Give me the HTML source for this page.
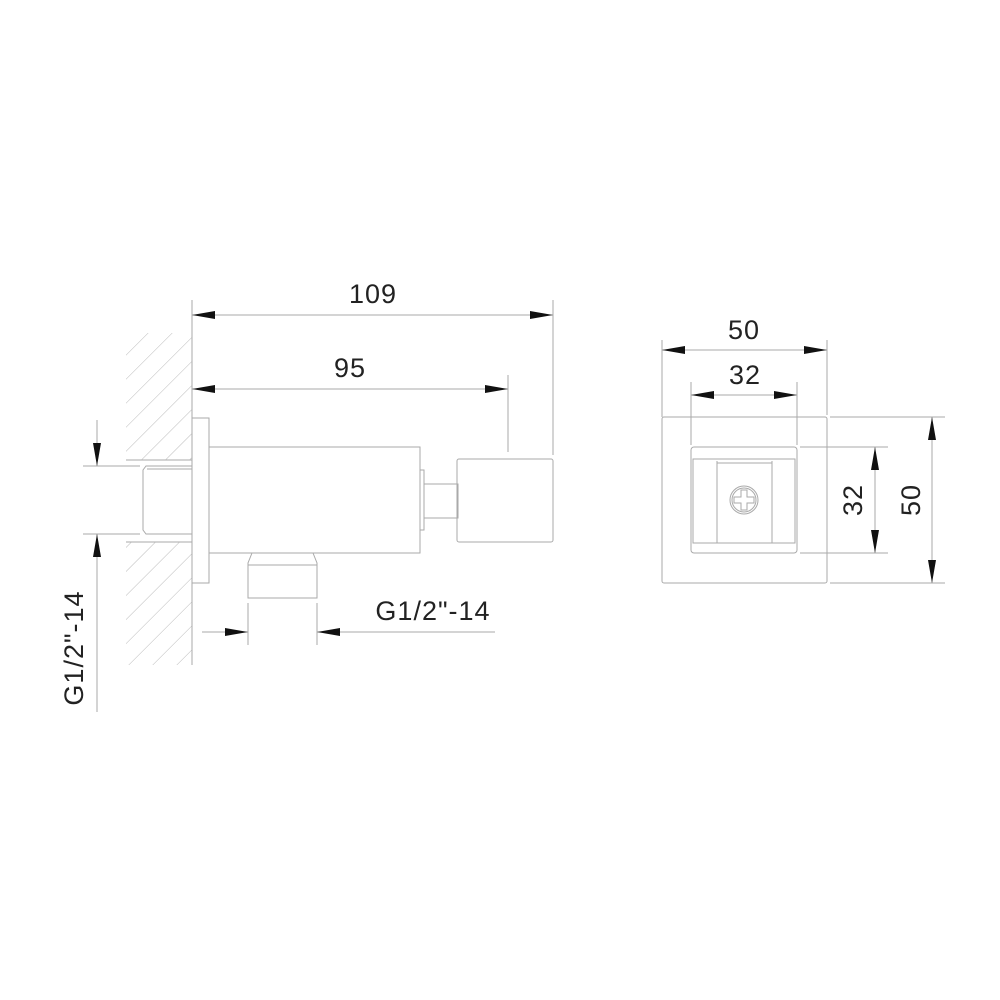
<!DOCTYPE html>
<html><head><meta charset="utf-8"><style>
html,body{margin:0;padding:0;background:#fff;}
svg{display:block;}
text{font-family:"Liberation Sans",sans-serif;font-size:27px;letter-spacing:1px;fill:#222;}
</style></head><body>
<svg width="1000" height="1000" viewBox="0 0 1000 1000">
<defs>
<pattern id="h" patternUnits="userSpaceOnUse" width="17" height="17" patternTransform="rotate(45)">
<line x1="0" y1="0" x2="0" y2="17" stroke="#bbb" stroke-width="1"/>
</pattern>
<marker id="a" viewBox="0 0 10 10" refX="10" refY="5" markerWidth="23" markerHeight="8" markerUnits="userSpaceOnUse" orient="auto-start-reverse" preserveAspectRatio="none">
<path d="M0,0 L10,5 L0,10 z" fill="#111"/>
</marker>
</defs>
<g fill="none" stroke="#aaa" stroke-width="1">
<rect x="126" y="333" width="66" height="127" fill="url(#h)" stroke="none"/>
<rect x="126" y="542" width="66" height="123" fill="url(#h)" stroke="none"/>
<line x1="126" y1="460" x2="192" y2="460"/>
<line x1="126" y1="542" x2="192" y2="542"/>
<line x1="192" y1="300" x2="192" y2="665"/>
<rect x="192" y="418" width="17" height="165"/>
<rect x="209" y="447" width="211" height="106"/>
<path d="M192,466 H146 L143,470 V530 L146,534 H192"/>
<line x1="147" y1="469" x2="192" y2="469"/>
<path d="M420,470 H424 V530 H420"/>
<rect x="424" y="484" width="34" height="34"/>
<rect x="457" y="459" width="96" height="83" rx="2"/>
<path d="M252,553 L248,563 V598 H317 V563 L313,553"/>
<line x1="248" y1="565" x2="317" y2="565"/>
<line x1="553" y1="300" x2="553" y2="455"/>
<line x1="192" y1="315" x2="553" y2="315" marker-start="url(#a)" marker-end="url(#a)"/>
<line x1="508" y1="375" x2="508" y2="452"/>
<line x1="192" y1="389" x2="508" y2="389" marker-start="url(#a)" marker-end="url(#a)"/>
<line x1="248" y1="603" x2="248" y2="645"/>
<line x1="317" y1="603" x2="317" y2="645"/>
<line x1="202" y1="632" x2="248" y2="632" marker-end="url(#a)"/>
<line x1="317" y1="632" x2="495" y2="632" marker-start="url(#a)"/>
<line x1="83" y1="466" x2="140" y2="466"/>
<line x1="83" y1="534" x2="140" y2="534"/>
<line x1="97" y1="420" x2="97" y2="466" marker-end="url(#a)"/>
<line x1="97" y1="534" x2="97" y2="712" marker-start="url(#a)"/>
<rect x="662" y="417" width="165" height="166" rx="2"/>
<rect x="691" y="447" width="106" height="106" rx="3"/>
<rect x="693" y="459" width="102" height="84"/>
<line x1="717" y1="461" x2="717" y2="543"/>
<line x1="772" y1="461" x2="772" y2="543"/>
<line x1="717" y1="463" x2="772" y2="463"/>
<circle cx="744" cy="500" r="14"/>
<circle cx="744" cy="500" r="12"/>
<path d="M741,490 h6 v7 h7 v6 h-7 v7 h-6 v-7 h-7 v-6 h7 z"/>
<line x1="662" y1="340" x2="662" y2="417"/>
<line x1="827" y1="340" x2="827" y2="415"/>
<line x1="662" y1="350" x2="827" y2="350" marker-start="url(#a)" marker-end="url(#a)"/>
<line x1="691" y1="382" x2="691" y2="445"/>
<line x1="797" y1="382" x2="797" y2="445"/>
<line x1="691" y1="395" x2="797" y2="395" marker-start="url(#a)" marker-end="url(#a)"/>
<line x1="800" y1="447" x2="888" y2="447"/>
<line x1="800" y1="553" x2="888" y2="553"/>
<line x1="875" y1="447" x2="875" y2="553" marker-start="url(#a)" marker-end="url(#a)"/>
<line x1="830" y1="417" x2="945" y2="417"/>
<line x1="830" y1="583" x2="945" y2="583"/>
<line x1="932" y1="417" x2="932" y2="583" marker-start="url(#a)" marker-end="url(#a)"/>
</g>
<text x="373" y="303" text-anchor="middle">109</text>
<text x="350" y="377" text-anchor="middle">95</text>
<text x="433" y="620" text-anchor="middle">G1/2"-14</text>
<text x="744" y="339" text-anchor="middle">50</text>
<text x="745" y="384" text-anchor="middle">32</text>
<text transform="translate(862,500) rotate(-90)" text-anchor="middle">32</text>
<text transform="translate(920,500) rotate(-90)" text-anchor="middle">50</text>
<text transform="translate(83,648) rotate(-90)" text-anchor="middle">G1/2"-14</text>
</svg>
</body></html>
